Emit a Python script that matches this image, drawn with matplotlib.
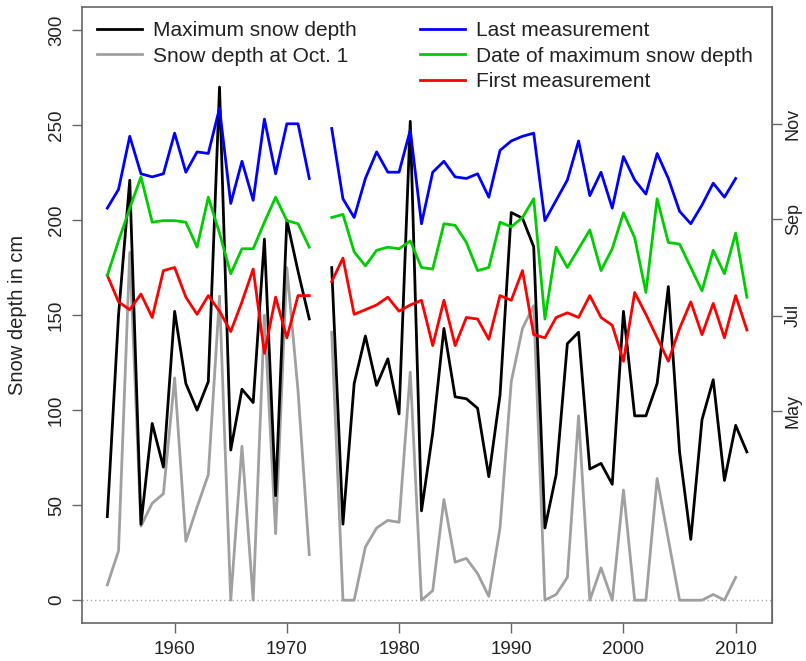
import matplotlib
matplotlib.use("Agg")
import matplotlib.pyplot as plt
import numpy as np

nan = np.nan
years = np.arange(1954, 2012)

# snow depth in cm (1973 missing)
max_depth = [44, 150, 221, 40, 93, 70, 152, 114, 100, 115, 270, 79, 111, 104, 190, 55, 200, 173, 148,
             nan,
             175, 40, 114, 139, 113, 127, 98, 252, 47, 88,
             143, 107, 106, 101, 65, 108, 204, 201, 186, 38,
             66, 135, 141, 69, 72, 61, 152, 97, 97, 114,
             165, 78, 32, 95, 116, 63, 92, 78]
oct1_depth = [8, 26, 183, 39, 51, 56, 117, 31, 49, 66, 160, 0, 81, 0, 150, 35, 175, 110, 24,
              nan,
              141, 0, 0, 28, 38, 42, 41, 120, 0, 5,
              53, 20, 22, 14, 2, 38, 115, 143, 155, 0,
              3, 12, 97, 0, 17, 0, 58, 0, 0, 64,
              32, 0, 0, 0, 3, 0, 12, nan]

# dates as day of year
last_doy = [251, 263, 297, 273, 271, 273, 299, 274, 287, 286, 315, 254, 281, 256, 308, 273, 305, 305, 270,
            nan,
            302, 257, 245, 270, 287, 274, 274, 301, 241, 274,
            281, 271, 270, 273, 258, 288, 294, 297, 299, 243,
            256, 269, 294, 259, 274, 251, 284, 269, 260, 286,
            270, 249, 241, 253, 267, 258, 270, nan]
maxdate_doy = [208, 230, 251, 271, 242, 243, 243, 242, 226, 258, 235, 209, 225, 225, 242, 258, 243, 241, 226,
               nan,
               245, 247, 223, 214, 224, 226, 225, 230, 213, 212,
               241, 240, 229, 211, 213, 242, 239, 245, 257, 180,
               226, 213, 225, 237, 211, 225, 248, 232, 197, 257,
               229, 228, 213, 198, 224, 209, 235, 194]
first_doy = [208, 191, 186, 196, 181, 211, 213, 194, 183, 195, 185, 172, 191, 212, 158, 194, 168, 195, 195,
             nan,
             204, 219, 183, 186, 189, 194, 185, 189, 192, 163,
             192, 163, 181, 180, 167, 195, 192, 211, 170, 168,
             181, 184, 181, 195, 181, 176, 153, 197, 183, 168,
             153, 174, 191, 170, 190, 168, 195, 173]

month_doy = [121, 182, 244, 305]
month_names = ["May", "Jul", "Sep", "Nov"]


def doy_to_cm(d):
    return np.asarray(d, dtype=float) * 300.0 / 365.0


def cm_to_doy(c):
    return np.asarray(c, dtype=float) * 365.0 / 300.0


plt.rcParams['font.family'] = ['Liberation Sans', 'DejaVu Sans']
txt = '#222222'
frame = '#666666'

fig = plt.figure(figsize=(8.06, 6.61), dpi=100)
ax = fig.add_axes([0.1014, 0.0575, 0.857, 0.9315])

ax.axhline(0, color='#aaaaaa', lw=1, ls=(0, (1, 2)))

lw = 2.0
ax.plot(years, oct1_depth, color='#a0a0a0', lw=lw)
ax.plot(years, max_depth, color='black', lw=lw)
ax.plot(years, doy_to_cm(first_doy), color='#ff0000', lw=lw)
ax.plot(years, doy_to_cm(maxdate_doy), color='#00cd00', lw=lw)
ax.plot(years, doy_to_cm(last_doy), color='#0000ff', lw=lw)

ax.set_xlim(1951.72, 2013.28)
ax.set_ylim(-12, 312)
ax.set_xticks([1960, 1970, 1980, 1990, 2000, 2010])
ax.set_yticks([0, 50, 100, 150, 200, 250, 300])
ax.tick_params(colors=frame, labelcolor=txt, labelsize=13.5, length=7, width=1)
for lab in ax.get_yticklabels():
    lab.set_rotation(90)
    lab.set_va('center')
ax.tick_params(axis='y', pad=5)
ax.tick_params(axis='x', pad=6)
for s in ax.spines.values():
    s.set_color(frame)
    s.set_linewidth(1.2)
ax.set_ylabel("Snow depth in cm", fontsize=14.5, color=txt, labelpad=15)

sec = ax.secondary_yaxis('right', functions=(cm_to_doy, doy_to_cm))
sec.set_yticks(month_doy)
sec.set_yticklabels(month_names, rotation=90, va='center')
sec.tick_params(colors=frame, labelcolor=txt, labelsize=13, length=7, width=1, pad=2)
sec.spines['right'].set_color(frame)

h = {}
h['k'], = ax.plot([], [], color='black', lw=lw)
h['g'], = ax.plot([], [], color='#a0a0a0', lw=lw)
h['b'], = ax.plot([], [], color='#0000ff', lw=lw)
h['gr'], = ax.plot([], [], color='#00cd00', lw=lw)
h['r'], = ax.plot([], [], color='#ff0000', lw=lw)

kw = dict(frameon=False, fontsize=15, handlelength=2.15, handletextpad=0.55,
          labelspacing=0.3, borderaxespad=0, borderpad=0)
leg1 = ax.legend([h['k'], h['g']], ["Maximum snow depth", "Snow depth at Oct. 1"],
                 loc='upper left', bbox_to_anchor=(0.022, 0.977), **kw)
for t in leg1.get_texts():
    t.set_color(txt)
ax.add_artist(leg1)
leg2 = ax.legend([h['b'], h['gr'], h['r']],
                 ["Last measurement", "Date of maximum snow depth", "First measurement"],
                 loc='upper left', bbox_to_anchor=(0.49, 0.977), **kw)
for t in leg2.get_texts():
    t.set_color(txt)

fig.savefig("out.png", dpi=100)
